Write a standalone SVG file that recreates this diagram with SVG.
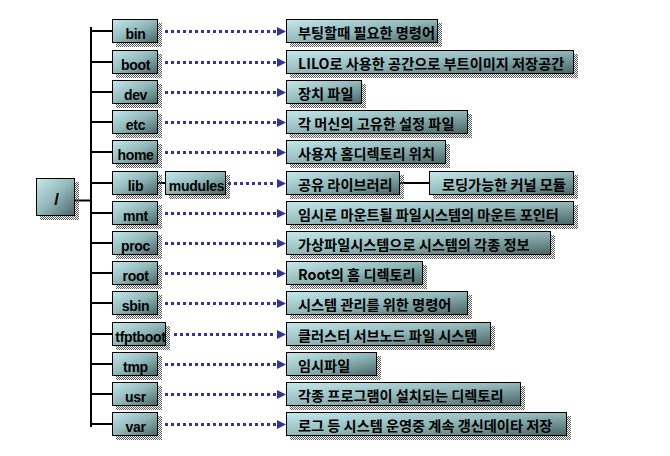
<svg xmlns="http://www.w3.org/2000/svg" width="670" height="456" viewBox="0 0 670 456">
<defs>
<linearGradient id="g" x1="0" y1="0" x2="1" y2="1">
<stop offset="0" stop-color="#c4e8ec"/>
<stop offset="0.5" stop-color="#92b8ba"/>
<stop offset="1" stop-color="#4a6464"/>
</linearGradient>
<pattern id="dither" width="2" height="2" patternUnits="userSpaceOnUse">
<rect width="1" height="1" fill="#5a5a5a"/>
<rect x="1" y="1" width="1" height="1" fill="#5a5a5a"/>
</pattern>
</defs>
<style>
.box{fill:url(#g);stroke:#000;stroke-width:1}
.sh{fill:url(#dither)}
.en{font-family:"Liberation Sans",Arial,sans-serif;font-weight:bold;font-size:14px;letter-spacing:-0.3px;fill:#000;text-anchor:middle}
.ko{font-family:"Noto Sans CJK KR","Noto Sans",sans-serif;font-weight:bold;font-size:14.2px;fill:#000}
.tree{stroke:#000;stroke-width:2;fill:none}
.dot{stroke:#333399;stroke-width:3;stroke-dasharray:3 3;fill:none}
.ah{fill:#333399}
</style>
<rect width="670" height="456" fill="#fff"/>

<g id="connectors">
<line class="tree" x1="91" y1="27" x2="91" y2="427"/>
<line class="tree" x1="74" y1="200.5" x2="90" y2="200.5"/>
<line class="tree" x1="91" y1="31" x2="112" y2="31"/>
<line class="tree" x1="91" y1="62" x2="112" y2="62"/>
<line class="tree" x1="91" y1="92" x2="112" y2="92"/>
<line class="tree" x1="91" y1="122" x2="112" y2="122"/>
<line class="tree" x1="91" y1="152" x2="112" y2="152"/>
<line class="tree" x1="91" y1="183" x2="112" y2="183"/>
<line class="tree" x1="91" y1="213" x2="112" y2="213"/>
<line class="tree" x1="91" y1="243" x2="112" y2="243"/>
<line class="tree" x1="91" y1="273" x2="112" y2="273"/>
<line class="tree" x1="91" y1="303" x2="112" y2="303"/>
<line class="tree" x1="91" y1="334" x2="112" y2="334"/>
<line class="tree" x1="91" y1="364" x2="112" y2="364"/>
<line class="tree" x1="91" y1="394" x2="112" y2="394"/>
<line class="tree" x1="91" y1="424" x2="112" y2="424"/>
<line class="tree" x1="158" y1="183" x2="165" y2="183"/>
<line class="tree" x1="399" y1="183" x2="429" y2="183"/>

<line class="dot" x1="165" y1="31.5" x2="276" y2="31.5"/>
<polygon class="ah" points="277,27 277,36 286,31.5"/>
<line class="dot" x1="165" y1="62.5" x2="276" y2="62.5"/>
<polygon class="ah" points="277,58 277,67 286,62.5"/>
<line class="dot" x1="165" y1="92.5" x2="276" y2="92.5"/>
<polygon class="ah" points="277,88 277,97 286,92.5"/>
<line class="dot" x1="165" y1="122.5" x2="276" y2="122.5"/>
<polygon class="ah" points="277,118 277,127 286,122.5"/>
<line class="dot" x1="165" y1="152.5" x2="276" y2="152.5"/>
<polygon class="ah" points="277,148 277,157 286,152.5"/>
<line class="dot" x1="228" y1="183.5" x2="276" y2="183.5"/>
<polygon class="ah" points="277,179 277,188 286,183.5"/>
<line class="dot" x1="165" y1="213.5" x2="276" y2="213.5"/>
<polygon class="ah" points="277,209 277,218 286,213.5"/>
<line class="dot" x1="165" y1="243.5" x2="276" y2="243.5"/>
<polygon class="ah" points="277,239 277,248 286,243.5"/>
<line class="dot" x1="165" y1="273.5" x2="276" y2="273.5"/>
<polygon class="ah" points="277,269 277,278 286,273.5"/>
<line class="dot" x1="165" y1="303.5" x2="276" y2="303.5"/>
<polygon class="ah" points="277,299 277,308 286,303.5"/>
<line class="dot" x1="174" y1="334.5" x2="276" y2="334.5"/>
<polygon class="ah" points="277,330 277,339 286,334.5"/>
<line class="dot" x1="165" y1="364.5" x2="276" y2="364.5"/>
<polygon class="ah" points="277,360 277,369 286,364.5"/>
<line class="dot" x1="165" y1="394.5" x2="276" y2="394.5"/>
<polygon class="ah" points="277,390 277,399 286,394.5"/>
<line class="dot" x1="165" y1="424.5" x2="276" y2="424.5"/>
<polygon class="ah" points="277,420 277,429 286,424.5"/>
</g>

<g id="root">
<rect class="sh" x="40" y="182" width="39" height="38"/>
<rect class="box" x="36.5" y="178.5" width="38" height="37"/>
<text class="en" x="56.5" y="204.5" style="font-size:17px">/</text>
</g>

<g id="n-bin"><rect class="sh" x="116" y="23" width="46" height="24"/><rect class="box" x="112.5" y="19.5" width="45" height="23"/><text class="en" x="135.5" y="38.5">bin</text></g>
<g id="n-boot"><rect class="sh" x="116" y="54" width="46" height="24"/><rect class="box" x="112.5" y="50.5" width="45" height="23"/><text class="en" x="135.5" y="69.5">boot</text></g>
<g id="n-dev"><rect class="sh" x="116" y="84" width="46" height="24"/><rect class="box" x="112.5" y="80.5" width="45" height="23"/><text class="en" x="135.5" y="99.5">dev</text></g>
<g id="n-etc"><rect class="sh" x="116" y="114" width="46" height="24"/><rect class="box" x="112.5" y="110.5" width="45" height="23"/><text class="en" x="135.5" y="129.5">etc</text></g>
<g id="n-home"><rect class="sh" x="116" y="144" width="46" height="24"/><rect class="box" x="112.5" y="140.5" width="45" height="23"/><text class="en" x="135.5" y="159.5">home</text></g>
<g id="n-lib"><rect class="sh" x="116" y="175" width="46" height="24"/><rect class="box" x="112.5" y="171.5" width="45" height="23"/><text class="en" x="135.5" y="190.5">lib</text></g>
<g id="n-mudules"><rect class="sh" x="169" y="175" width="61" height="24"/><rect class="box" x="165.5" y="171.5" width="60" height="23"/><text class="en" x="196.5" y="190.5">mudules</text></g>
<g id="n-mnt"><rect class="sh" x="116" y="205" width="46" height="24"/><rect class="box" x="112.5" y="201.5" width="45" height="23"/><text class="en" x="135.5" y="220.5">mnt</text></g>
<g id="n-proc"><rect class="sh" x="116" y="235" width="46" height="24"/><rect class="box" x="112.5" y="231.5" width="45" height="23"/><text class="en" x="135.5" y="250.5">proc</text></g>
<g id="n-root"><rect class="sh" x="116" y="265" width="46" height="24"/><rect class="box" x="112.5" y="261.5" width="45" height="23"/><text class="en" x="135.5" y="280.5">root</text></g>
<g id="n-sbin"><rect class="sh" x="116" y="295" width="46" height="24"/><rect class="box" x="112.5" y="291.5" width="45" height="23"/><text class="en" x="135.5" y="310.5">sbin</text></g>
<g id="n-tfptboot"><rect class="sh" x="116" y="326" width="54" height="24"/><rect class="box" x="112.5" y="322.5" width="53" height="23"/><text class="en" x="140.5" y="341.5">tfptboot</text></g>
<g id="n-tmp"><rect class="sh" x="116" y="356" width="46" height="24"/><rect class="box" x="112.5" y="352.5" width="45" height="23"/><text class="en" x="135.5" y="371.5">tmp</text></g>
<g id="n-usr"><rect class="sh" x="116" y="386" width="46" height="24"/><rect class="box" x="112.5" y="382.5" width="45" height="23"/><text class="en" x="135.5" y="401.5">usr</text></g>
<g id="n-var"><rect class="sh" x="116" y="416" width="46" height="24"/><rect class="box" x="112.5" y="412.5" width="45" height="23"/><text class="en" x="135.5" y="431.5">var</text></g>

<g id="d-bin"><rect class="sh" x="290" y="23" width="152" height="24"/><rect class="box" x="286.5" y="19.5" width="151" height="23"/><text class="ko" x="298" y="37.5">부팅할때 필요한 명령어</text></g>
<g id="d-boot"><rect class="sh" x="290" y="54" width="288" height="24"/><rect class="box" x="286.5" y="50.5" width="287" height="23"/><text class="ko" x="298" y="68.5">LILO로 사용한 공간으로 부트이미지 저장공간</text></g>
<g id="d-dev"><rect class="sh" x="290" y="84" width="76" height="24"/><rect class="box" x="286.5" y="80.5" width="75" height="23"/><text class="ko" x="298" y="98.5">장치 파일</text></g>
<g id="d-etc"><rect class="sh" x="290" y="114" width="182" height="24"/><rect class="box" x="286.5" y="110.5" width="181" height="23"/><text class="ko" x="298" y="128.5">각 머신의 고유한 설정 파일</text></g>
<g id="d-home"><rect class="sh" x="290" y="144" width="160" height="24"/><rect class="box" x="286.5" y="140.5" width="159" height="23"/><text class="ko" x="298" y="158.5">사용자 홈디렉토리 위치</text></g>
<g id="d-lib"><rect class="sh" x="290" y="175" width="114" height="24"/><rect class="box" x="286.5" y="171.5" width="113" height="23"/><text class="ko" x="298" y="189.5">공유 라이브러리</text></g>
<g id="d-modules"><rect class="sh" x="433" y="175" width="145" height="24"/><rect class="box" x="429.5" y="171.5" width="144" height="23"/><text class="ko" x="442" y="189.5">로딩가능한 커널 모듈</text></g>
<g id="d-mnt"><rect class="sh" x="290" y="205" width="288" height="24"/><rect class="box" x="286.5" y="201.5" width="287" height="23"/><text class="ko" x="298" y="219.5">임시로 마운트될 파일시스템의 마운트 포인터</text></g>
<g id="d-proc"><rect class="sh" x="290" y="235" width="265" height="24"/><rect class="box" x="286.5" y="231.5" width="264" height="23"/><text class="ko" x="298" y="249.5">가상파일시스템으로 시스템의 각종 정보</text></g>
<g id="d-root"><rect class="sh" x="290" y="265" width="137" height="24"/><rect class="box" x="286.5" y="261.5" width="136" height="23"/><text class="ko" x="298" y="279.5">Root의 홈 디렉토리</text></g>
<g id="d-sbin"><rect class="sh" x="290" y="295" width="182" height="24"/><rect class="box" x="286.5" y="291.5" width="181" height="23"/><text class="ko" x="298" y="309.5">시스템 관리를 위한 명령어</text></g>
<g id="d-tfptboot"><rect class="sh" x="290" y="326" width="205" height="24"/><rect class="box" x="286.5" y="322.5" width="204" height="23"/><text class="ko" x="298" y="340.5">클러스터 서브노드 파일 시스템</text></g>
<g id="d-tmp"><rect class="sh" x="290" y="356" width="91" height="24"/><rect class="box" x="286.5" y="352.5" width="90" height="23"/><text class="ko" x="298" y="370.5">임시파일</text></g>
<g id="d-usr"><rect class="sh" x="290" y="386" width="235" height="24"/><rect class="box" x="286.5" y="382.5" width="234" height="23"/><text class="ko" x="298" y="400.5">각종 프로그램이 설치되는 디렉토리</text></g>
<g id="d-var"><rect class="sh" x="290" y="416" width="281" height="24"/><rect class="box" x="286.5" y="412.5" width="280" height="23"/><text class="ko" x="298" y="430.5">로그 등 시스템 운영중 계속 갱신데이타 저장</text></g>
</svg>
